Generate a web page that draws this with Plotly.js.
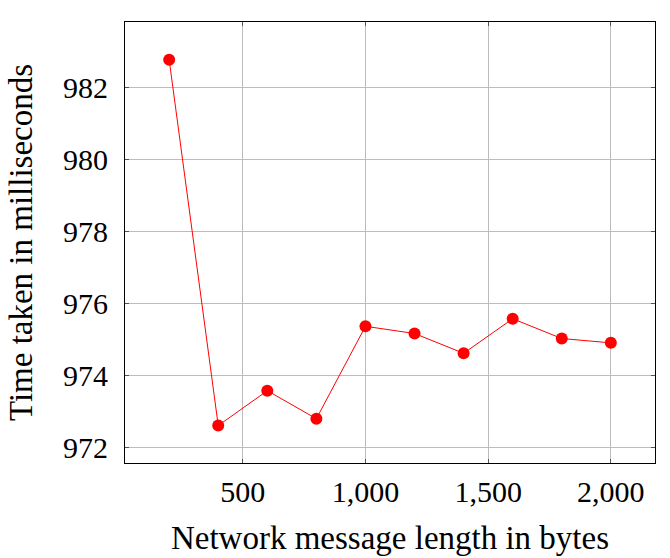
<!DOCTYPE html>
<html>
<head>
<meta charset="utf-8">
<script src="https://cdn.plot.ly/plotly-3.0.1.min.js"></script>
<style>
  body { margin: 0; background: #fff; }
  #chart { width: 670px; height: 558px; }
</style>
</head>
<body>
<div id="chart"></div>
<script>
// message lengths (bytes) and measured times (ms)
var lengths = [200, 400, 600, 800, 1000, 1200, 1400, 1600, 1800, 2000];
var times = [982.77, 972.60, 973.57, 972.79, 975.36, 975.16, 974.61, 975.57, 975.02, 974.90];

var xTicks = [500, 1000, 1500, 2000];
var xTickText = ["500", "1,000", "1,500", "2,000"];
var yTicks = [972, 974, 976, 978, 980, 982];

var serif = "Liberation Serif, Times New Roman, serif";

var trace = {
  x: lengths,
  y: times,
  mode: 'lines+markers',
  type: 'scatter',
  line: { color: '#ff0000', width: 1 },
  marker: { color: '#ff0000', size: 12 }
};

var layout = {
  width: 670,
  height: 558,
  margin: { l: 125, r: 15, t: 22, b: 95 },
  paper_bgcolor: '#ffffff',
  plot_bgcolor: '#ffffff',
  showlegend: false,
  font: { family: serif, color: '#000000', size: 30 },
  xaxis: {
    range: [20, 2180],
    tickvals: xTicks,
    ticktext: xTickText,
    showgrid: true,
    gridcolor: '#bcbcbc',
    gridwidth: 1,
    zeroline: false,
    showline: true,
    linecolor: '#000000',
    linewidth: 1,
    mirror: 'ticks',
    ticks: 'inside',
    ticklen: 4,
    tickcolor: '#555555',
    ticklabelstandoff: 2,
    tickfont: { family: serif, size: 30 },
    title: { text: 'Network message length in bytes', font: { family: serif, size: 33 }, standoff: 18 }
  },
  yaxis: {
    range: [971.56, 983.82],
    tickvals: yTicks,
    showgrid: true,
    gridcolor: '#bcbcbc',
    gridwidth: 1,
    zeroline: false,
    showline: true,
    linecolor: '#000000',
    linewidth: 1,
    mirror: 'ticks',
    ticks: 'inside',
    ticklen: 4,
    tickcolor: '#555555',
    ticklabelstandoff: 10,
    tickfont: { family: serif, size: 30 },
    title: { text: 'Time taken in milliseconds', font: { family: serif, size: 33 }, standoff: 20 }
  }
};

Plotly.newPlot('chart', [trace], layout, { staticPlot: true });
</script>
</body>
</html>
